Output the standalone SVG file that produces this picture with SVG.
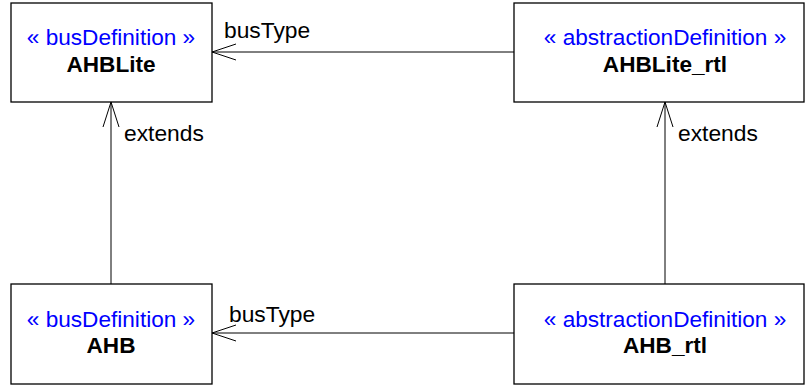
<svg xmlns="http://www.w3.org/2000/svg" width="806" height="385" viewBox="0 0 806 385">
<style>
.box{fill:#fff;stroke:#000;stroke-width:1.3}
.st{font-family:"Liberation Sans",Arial,sans-serif;font-size:22.6px;fill:#0000ff;text-anchor:middle}
.nm{font-family:"Liberation Sans",Arial,sans-serif;font-size:22.6px;font-weight:bold;fill:#000;text-anchor:middle}
.lb{font-family:"Liberation Sans",Arial,sans-serif;font-size:22.8px;fill:#000}
.ln{fill:none;stroke:#000;stroke-width:1}
</style>
<rect width="806" height="385" fill="#fff"/>
<g id="connectors">
<g id="busType1"><path class="ln" d="M514,52 H212 M236,44 L212,52 L236,60"/><text class="lb" x="224" y="38">busType</text></g>
<g id="busType2"><path class="ln" d="M514,333 H212 M236,325 L212,333 L236,341"/><text class="lb" x="229" y="322">busType</text></g>
<g id="extends1"><path class="ln" d="M111,284 V102 M103,127 L111,102 L119,127"/><text class="lb" x="124" y="141">extends</text></g>
<g id="extends2"><path class="ln" d="M665,284 V102 M657,127 L665,102 L673,127"/><text class="lb" x="678" y="141">extends</text></g>
</g>
<g id="AHBLite"><rect class="box" x="11" y="3" width="201" height="99"/><text class="st" x="111" y="45">« busDefinition »</text><text class="nm" x="111" y="72">AHBLite</text></g>
<g id="AHBLite_rtl"><rect class="box" x="514" y="3" width="290" height="99"/><text class="st" x="665" y="45">« abstractionDefinition »</text><text class="nm" x="665" y="72">AHBLite_rtl</text></g>
<g id="AHB"><rect class="box" x="11" y="284" width="201" height="100"/><text class="st" x="111" y="327">« busDefinition »</text><text class="nm" x="111" y="353">AHB</text></g>
<g id="AHB_rtl"><rect class="box" x="514" y="284" width="290" height="100"/><text class="st" x="665" y="327">« abstractionDefinition »</text><text class="nm" x="665" y="353">AHB_rtl</text></g>
</svg>
